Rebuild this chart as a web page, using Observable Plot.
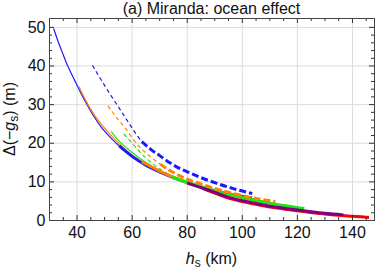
<!DOCTYPE html>
<html><head><meta charset="utf-8">
<script src="https://cdn.jsdelivr.net/npm/d3@7"></script>
<script src="https://cdn.jsdelivr.net/npm/@observablehq/plot@0.6"></script>
<style>
body{margin:0;background:#fff;font-family:"Liberation Sans",Arial,sans-serif;}
#title{position:absolute;left:49px;top:0;width:325px;height:17px;text-align:center;font-size:16px;line-height:17px;color:#111;white-space:nowrap;}
#chart{position:absolute;left:0;top:17px;}
</style></head><body>
<div id="title">(a) Miranda: ocean effect</div>
<div id="chart"></div>
<script>
// ---- data ----
const xTicks = [40, 60, 80, 100, 120, 140];
const yTicks = [0, 10, 20, 30, 40, 50];
const xMinorTicks = [35, 45, 50, 55, 65, 70, 75, 85, 90, 95, 105, 110, 115, 125, 130, 135, 145];
const yMinorTicks = [2, 4, 6, 8, 12, 14, 16, 18, 22, 24, 26, 28, 32, 34, 36, 38, 42, 44, 46, 48];

const blueThinSolid = [[31.5,49.7],[33,46.6],[34.6,43.6],[36.2,40.7],[38.5,37.2],[40.7,34.0],[43,30.8],[45.9,27.2],[49,24.0],[52,21.6],[55.3,19.3]];
const blueThickSolid = [[55.3,19.3],[60,16.6],[65,14.3],[70,12.6],[75,11.1],[80,9.8],[85,8.7],[90,7.7],[95,6.9],[100,6.2],[103.5,5.8]];
const orangeThinSolid = [[40.7,34.6],[43,31.3],[46,27.6],[50,23.9],[55,20.1],[60,16.9],[63.5,15.2]];
const orangeThickSolid = [[63.5,15.2],[70,12.8],[75,11.2],[80,9.8],[90,7.6],[100,5.9],[106,5.0],[112,4.3]];
const greenThinSolid = [[52.4,23.1],[55,20.8],[60,17.6],[65,15.0],[70,12.9],[74.4,11.2]];
const greenThickSolid = [[74.4,11.2],[80,9.9],[85,8.8],[90,7.8],[95,6.9],[100,6.0],[105,5.2],[110,4.5],[115,3.9],[122.5,3.1]];
const purpleThickSolid = [[80,9.7],[85,8.5],[90,7.3],[95,6.0],[100,5.1],[105,4.4],[110,3.7],[115,3.2],[120,2.7],[125,2.25],[130,1.85],[136.7,1.45]];
const redThickSolid = [[86,8.2],[90,7.1],[95,5.8],[100,4.9],[105,4.2],[110,3.5],[115,3.0],[120,2.5],[125,2.05],[130,1.7],[135,1.35],[140,1.1],[146,0.8]];

const blueThinDashed = [[45.6,40.2],[48,37.3],[50,35.0],[52,32.7],[54.4,30.1],[57,27.2],[59.3,24.7],[61.5,22.3],[63.5,20.4]];
const blueThickDashed = [[63.5,20.4],[67,18.3],[70,16.8],[74,14.8],[77.5,13.4],[81,12.3],[85,11.1],[90.8,9.6],[97,8.2],[103.6,7.0]];
const orangeThinDashed = [[51.2,29.7],[54,27.0],[57.5,23.9],[60,21.4],[63,18.8],[66.5,16.6],[70.2,14.6]];
const orangeThickDashed = [[70.2,14.6],[74,12.8],[77.5,11.5],[82,10.2],[86,9.2],[90,8.3],[95,7.3],[100.2,6.4],[106,5.6],[112,4.9]];
const greenThinDashed = [[57,22.4],[60,20.0],[63,17.6],[66.6,15.2],[70,13.4],[75,11.4],[79,10.3]];

// ---- layout ----
const W = 376, H = 256, mL = 49, mR = 2, mT = 1, mB = 53;
const innerW = W - mL - mR, innerH = H - mT - mB;
const C = {blue: "#1a1aff", orange: "#ff8000", green: "#19e619", purple: "#800080", red: "#ff0000"};

const series = [
  {d: blueThinSolid, c: C.blue, w: 1.2},
  {d: orangeThinSolid, c: C.orange, w: 1.2},
  {d: greenThinSolid, c: C.green, w: 1.2},
  {d: blueThinDashed, c: C.blue, w: 1.2, dash: "4,3"},
  {d: orangeThinDashed, c: C.orange, w: 1.2, dash: "4,3"},
  {d: greenThinDashed, c: C.green, w: 1.2, dash: "4,3"},
  {d: blueThickSolid, c: C.blue, w: 3},
  {d: orangeThickSolid, c: C.orange, w: 3},
  {d: greenThickSolid, c: C.green, w: 3},
  {d: redThickSolid, c: C.red, w: 3},
  {d: purpleThickSolid, c: C.purple, w: 3},
  {d: orangeThickDashed, c: C.orange, w: 3, dash: "7,3"},
  {d: blueThickDashed, c: C.blue, w: 3, dash: "7,3"}
];

const tickColor = "#333";
const marks = [
  Plot.ruleX(xTicks, {stroke: "#dcdcdc", strokeWidth: 1}),
  Plot.ruleY(yTicks.slice(1), {stroke: "#dcdcdc", strokeWidth: 1}),
  ...series.map(s => Plot.line(s.d, {x: d => d[0], y: d => d[1], stroke: s.c, strokeWidth: s.w,
      strokeDasharray: s.dash, curve: "monotone-x", strokeLinecap: "butt"})),
  // inward ticks on all four sides
  Plot.tickX(xTicks, {x: d => d, insetTop: innerH - 5, stroke: tickColor}),
  Plot.tickX(xTicks, {x: d => d, insetBottom: innerH - 5, stroke: tickColor}),
  Plot.tickX(xMinorTicks, {x: d => d, insetTop: innerH - 3, stroke: tickColor}),
  Plot.tickX(xMinorTicks, {x: d => d, insetBottom: innerH - 3, stroke: tickColor}),
  Plot.tickY(yTicks, {y: d => d, insetRight: innerW - 5, stroke: tickColor}),
  Plot.tickY(yTicks, {y: d => d, insetLeft: innerW - 5, stroke: tickColor}),
  Plot.tickY(yMinorTicks, {y: d => d, insetRight: innerW - 3, stroke: tickColor}),
  Plot.tickY(yMinorTicks, {y: d => d, insetLeft: innerW - 3, stroke: tickColor}),
  Plot.frame({stroke: "#444", strokeWidth: 1})
];

const chart = Plot.plot({
  width: W, height: H,
  marginLeft: mL, marginRight: mR, marginTop: mT, marginBottom: mB,
  style: {fontFamily: "'Liberation Sans', Arial, sans-serif", fontSize: "16px", color: "#111", background: "#fff", overflow: "visible"},
  x: {domain: [30, 148], ticks: xTicks, tickSize: 0, tickPadding: 6, label: null},
  y: {domain: [0, 52.3], ticks: yTicks, tickSize: 0, tickPadding: 4, label: null},
  marks
});
document.getElementById("chart").appendChild(chart);

// axis titles with italic / subscript parts
const svg = d3.select(chart);
const yl = svg.append("text")
  .attr("transform", `translate(15,${mT + innerH / 2}) rotate(-90)`)
  .attr("text-anchor", "middle")
  .attr("font-size", 16).attr("fill", "#111");
yl.append("tspan").text("Δ(−");
yl.append("tspan").attr("font-style", "italic").text("g");
yl.append("tspan").attr("font-size", 12).attr("dy", 3).text("s");
yl.append("tspan").attr("dy", -3).text(") (m)");

const xl = svg.append("text")
  .attr("x", mL + innerW / 2).attr("y", 247)
  .attr("text-anchor", "middle")
  .attr("font-size", 16).attr("fill", "#111");
xl.append("tspan").attr("font-style", "italic").text("h");
xl.append("tspan").attr("font-size", 12).attr("dy", 3).text("s");
xl.append("tspan").attr("dy", -3).text(" (km)");
</script>
</body></html>
